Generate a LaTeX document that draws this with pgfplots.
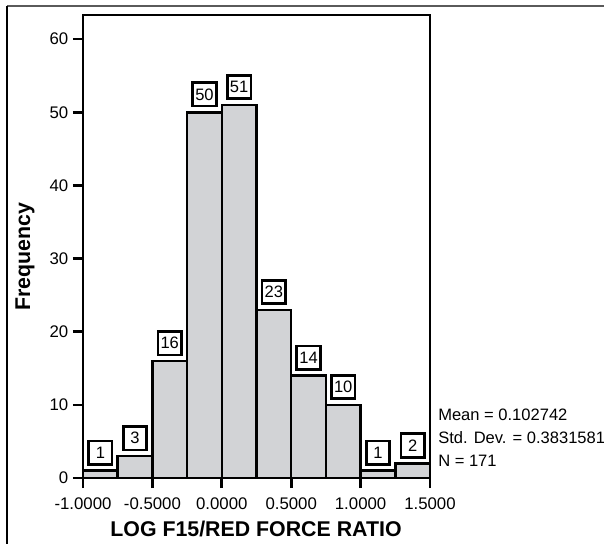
\documentclass[border=0pt]{standalone}
\usepackage{fontspec}
\setmainfont{Liberation Sans}
\usepackage{pgfplots}
\pgfplotsset{compat=1.18}
\definecolor{barfill}{RGB}{210,211,214}
\definecolor{framegray}{RGB}{90,90,90}
\begin{document}
\begin{tikzpicture}
\useasboundingbox (0,0) rectangle (453pt,408pt);
\begin{axis}[
    at={(62.25pt,49.5pt)}, anchor=south west,
    scale only axis,
    width=260.25pt, height=347.25pt,
    xmin=-1, xmax=1.5, ymin=0, ymax=63.3,
    axis line style={line width=2.2pt},
    tick style={line width=2pt, black},
    major tick length=7.5pt,
    tick align=outside,
    xtick pos=bottom, ytick pos=left,
    xtick={-1,-0.5,0,0.5,1,1.5},
    xticklabels={-1.0000,-0.5000,0.0000,0.5000,1.0000,1.5000},
    ytick={0,10,20,30,40,50,60},
    /pgf/number format/assume math mode=true,
    tick label style={font=\fontsize{12.6}{14}\selectfont},
    xticklabel style={yshift=-3.5pt},
    ybar, bar width=0.25, bar shift=0pt,
    nodes near coords,
    every node near coord/.style={
        draw=black, line width=2pt, fill=white,
        minimum width=17.6pt, minimum height=17.6pt, inner sep=0pt,
        font=\fontsize{12.4}{14}\selectfont, anchor=south, yshift=3.6pt},
]
\addplot[fill=barfill, draw=black, line width=1.9pt] coordinates {
    (-0.875,1) (-0.625,3) (-0.375,16) (-0.125,50) (0.125,51)
    (0.375,23) (0.625,14) (0.875,10) (1.125,1) (1.375,2)
};
\end{axis}
\begin{scope}[x=0.75pt,y=0.75pt]
\draw[framegray, line width=1.6pt] (7,538) -- (604,538);
\draw[black, line width=0.8pt] (7,538) -- (7,0);
\node[rotate=90, font=\fontsize{16}{18}\bfseries] at (25,287) {Frequency};
\node[anchor=base, inner sep=0pt, font=\fontsize{16}{18}\bfseries] at (256,7.3) {LOG F15/RED FORCE RATIO};
\node[anchor=base west, inner sep=0pt, font=\fontsize{12.4}{14}\selectfont] at (438,123.3) {Mean = 0.102742};
\node[anchor=base west, inner sep=0pt, font=\fontsize{12.4}{14}\selectfont] at (438,100.7) {Std. Dev. = 0.3831581};
\node[anchor=base west, inner sep=0pt, font=\fontsize{12.4}{14}\selectfont] at (438,78) {N = 171};
\end{scope}
\end{tikzpicture}
\end{document}
